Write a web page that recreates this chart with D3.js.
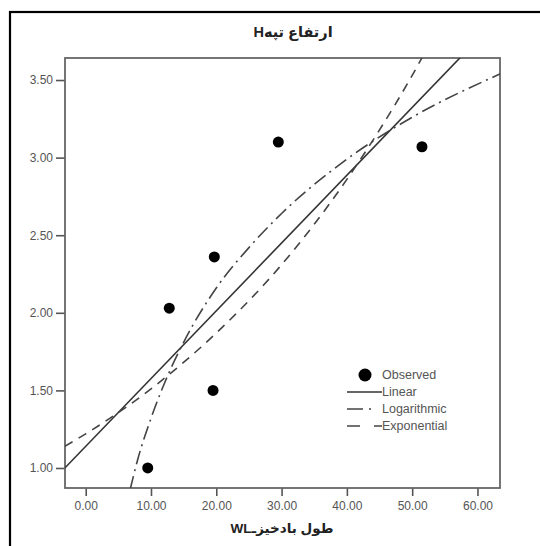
<!DOCTYPE html>
<html>
<head>
<meta charset="utf-8">
<script src="https://cdn.jsdelivr.net/npm/d3@7"></script>
<style>
  body { margin: 0; background: #fff; }
  svg { display: block; }
  text { font-family: "Liberation Sans", Arial, "DejaVu Sans", sans-serif; }
</style>
</head>
<body>
<div id="main"></div>
<script>

var width = 540,
    height = 546;

// observed points (WL, H)
var wl = [9.5, 12.8, 19.5, 19.7, 29.5, 51.5];
var hObs = [1.00, 2.03, 1.50, 2.36, 3.10, 3.07];

// fitted curves
var linX = [-3.2, 60];
var linY = [1.00, 3.76];

var logX = [6.8, 8, 10, 12, 15, 20, 25, 30, 40, 50, 63.5];
var logY = [0.86, 1.06, 1.32, 1.54, 1.81, 2.16, 2.42, 2.64, 2.99, 3.26, 3.54];

var expX = [-3.2, 0, 10, 20, 30, 40, 50, 56];
var expY = [1.14, 1.22, 1.51, 1.87, 2.31, 2.86, 3.53, 4.0];

var xTicks = [0, 10, 20, 30, 40, 50, 60];
var yTicks = [1.0, 1.5, 2.0, 2.5, 3.0, 3.5];

var legendNames = ["Observed", "Linear", "Logarithmic", "Exponential"];

var plot = { left: 65, right: 500, top: 58, bottom: 488 };

var svg = d3.select("div#main")
    .append("svg")
    .attr("width", width)
    .attr("height", height);

// outer frame (runs off the right and bottom of the crop)
svg.append("rect")
    .attr("x", 10).attr("y", 12)
    .attr("width", 600).attr("height", 600)
    .attr("fill", "none")
    .attr("stroke", "#000")
    .attr("stroke-width", 2.2);

var x = d3.scaleLinear()
    .domain([-3.17, 63.45])
    .range([plot.left, plot.right]);

var y = d3.scaleLinear()
    .domain([0.871, 3.642])
    .range([plot.bottom, plot.top]);

svg.append("clipPath")
    .attr("id", "clip")
    .append("rect")
    .attr("x", plot.left).attr("y", plot.top)
    .attr("width", plot.right - plot.left)
    .attr("height", plot.bottom - plot.top);

// axes
var xAxis = svg.append("g")
    .attr("transform", `translate(0,${plot.bottom})`)
    .call(d3.axisBottom(x).tickValues(xTicks).tickSize(8).tickPadding(5)
          .tickFormat(d3.format(".2f")));

var yAxis = svg.append("g")
    .attr("transform", `translate(${plot.left},0)`)
    .call(d3.axisLeft(y).tickValues(yTicks).tickSize(9).tickPadding(3)
          .tickFormat(d3.format(".2f")));

[xAxis, yAxis].forEach(function(a) {
    a.select(".domain").remove();
    a.selectAll("line").attr("stroke", "#555").attr("stroke-width", 1.6);
    a.selectAll("text")
        .attr("fill", "#555")
        .style("font-size", "12px");
});

// plot frame
svg.append("rect")
    .attr("x", plot.left).attr("y", plot.top)
    .attr("width", plot.right - plot.left)
    .attr("height", plot.bottom - plot.top)
    .attr("fill", "none")
    .attr("stroke", "#666")
    .attr("stroke-width", 1.8);

function pts(xs, ys) {
    return xs.map(function(d, i) { return [d, ys[i]]; });
}

var line = d3.line()
    .x(function(d) { return x(d[0]); })
    .y(function(d) { return y(d[1]); })
    .curve(d3.curveMonotoneX);

var curves = svg.append("g").attr("clip-path", "url(#clip)");

curves.append("path")
    .attr("d", line(pts(linX, linY)))
    .attr("fill", "none")
    .attr("stroke", "#333")
    .attr("stroke-width", 1.6);

curves.append("path")
    .attr("d", line(pts(logX, logY)))
    .attr("fill", "none")
    .attr("stroke", "#444")
    .attr("stroke-width", 1.6)
    .attr("stroke-dasharray", "14,5,2,5");

curves.append("path")
    .attr("d", line(pts(expX, expY)))
    .attr("fill", "none")
    .attr("stroke", "#444")
    .attr("stroke-width", 1.6)
    .attr("stroke-dasharray", "9,7");

svg.selectAll(".dot")
    .data(pts(wl, hObs))
    .enter().append("circle")
    .attr("class", "dot")
    .attr("cx", function(d) { return x(d[0]); })
    .attr("cy", function(d) { return y(d[1]); })
    .attr("r", 5.5)
    .attr("fill", "#000");

// legend
var lg = svg.append("g").attr("transform", "translate(347,375)");
var rowH = 17;

lg.append("circle").attr("cx", 18).attr("cy", 0).attr("r", 6.5).attr("fill", "#000");
lg.append("line").attr("x1", 0).attr("x2", 35).attr("y1", rowH).attr("y2", rowH)
    .attr("stroke", "#333").attr("stroke-width", 1.6);
lg.append("line").attr("x1", 0).attr("x2", 35).attr("y1", rowH * 2).attr("y2", rowH * 2)
    .attr("stroke", "#444").attr("stroke-width", 1.6).attr("stroke-dasharray", "16,6,2,11");
lg.append("line").attr("x1", 0).attr("x2", 35).attr("y1", rowH * 3).attr("y2", rowH * 3)
    .attr("stroke", "#444").attr("stroke-width", 1.6).attr("stroke-dasharray", "13,14");

lg.selectAll(".lgtext")
    .data(legendNames)
    .enter().append("text")
    .attr("class", "lgtext")
    .attr("x", 35)
    .attr("y", function(d, i) { return i * rowH; })
    .attr("dy", "0.35em")
    .attr("fill", "#555")
    .style("font-size", "12.5px")
    .text(function(d) { return d; });

// titles
svg.append("text")
    .attr("x", 293).attr("y", 37)
    .attr("text-anchor", "middle")
    .attr("direction", "rtl")
    .style("font-size", "14.5px")
    .style("font-weight", "bold")
    .attr("fill", "#222")
    .text("ارتفاع تپهH");

svg.append("text")
    .attr("x", 282).attr("y", 533)
    .attr("text-anchor", "middle")
    .attr("direction", "rtl")
    .style("font-size", "13.5px")
    .style("font-weight", "bold")
    .attr("fill", "#222")
    .text("طول بادخیزـWL");

</script>
</body>
</html>
